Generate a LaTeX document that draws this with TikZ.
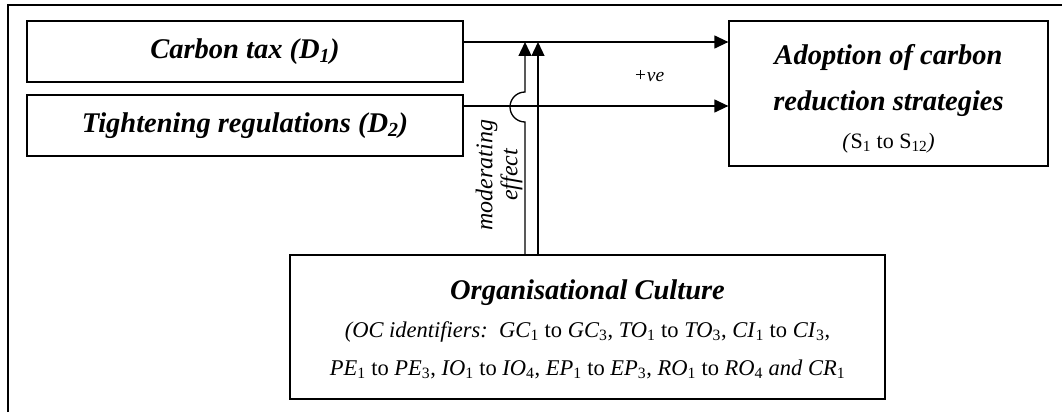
\documentclass[tikz,border=0pt]{standalone}
\usepackage{fontspec}
\setmainfont{Liberation Serif}
\usetikzlibrary{arrows.meta}
\usetikzlibrary{positioning,calc}
\newcommand{\sbs}[1]{\textsubscript{\upshape #1}}
\newcommand{\rng}[3]{\textit{#1}\sbs{#2} to \textit{#1}\sbs{#3}}

\begin{document}
\begin{tikzpicture}[x=1pt,y=-1pt,line width=1.3pt,
		bx/.style={draw,inner sep=0pt},
		hd/.style={font=\fontsize{28.5}{34}\selectfont\bfseries\itshape},
		sm/.style={font=\fontsize{22.5}{26}\selectfont,anchor=base},
		arr/.style={-{Triangle[length=14pt,width=13pt]}}]
	\useasboundingbox (0,0) rectangle (1062,412);
	\draw (8,412) -- (8,5) -- (1062,5);
	% drivers
	\node[bx,hd,minimum width=436pt,minimum height=61pt] (d1) at (245,51.5) {Carbon tax (D\textsubscript{1})};
	\node[bx,hd,minimum width=436pt,minimum height=61pt] (d2) at (245,125.5) {Tightening regulations (D\textsubscript{2})};
	% strategies
	\node[bx,minimum width=319pt,minimum height=145pt] (s) at (888.5,93.5) {};
	\node[hd,anchor=base] (s1) at (888.5,65) {Adoption of carbon};
	\node[hd,anchor=base] (s2) at (888.5,110) {reduction strategies};
	\node[font=\fontsize{22}{26}\selectfont,anchor=base] (s3) at (888.5,148) {\textit{(}S\sbs{1} to S\sbs{12}\textit{)}};
	% culture
	\node[bx,minimum width=595pt,minimum height=144pt] (oc) at (587.5,327) {};
	\node[hd,anchor=base] (oc1) at (587.5,299) {Organisational Culture};
	\node[sm] (oc2) at (587.5,337) {\textit{(OC identifiers:}\ \ \rng{GC}{1}{3}, \rng{TO}{1}{3}, \rng{CI}{1}{3},};
	\node[sm] (oc3) at (587.5,375) {\rng{PE}{1}{3}, \rng{IO}{1}{4}, \rng{EP}{1}{3}, \rng{RO}{1}{4} \textit{and CR}\sbs{1}};
	\node[font=\fontsize{19.5}{22}\selectfont\itshape] (pve) at (649,76) {+ve};
	\node[rotate=90,align=center,font=\fontsize{24}{25}\selectfont\itshape] (mod) at (499,175) {moderating\\effect};
	\draw[arr] (d1.east |- 0,42) -- (s.west |- 0,42);
	\draw[arr] (d2.east |- 0,106) -- (s.west |- 0,106);
	\draw[arr] (oc.north -| 525,0) -- (525,122) arc[start angle=90,end angle=270,radius=15] -- (525,42);
	\draw[arr] (oc.north -| 538,0) -- (538,42);
\end{tikzpicture}
\end{document}
